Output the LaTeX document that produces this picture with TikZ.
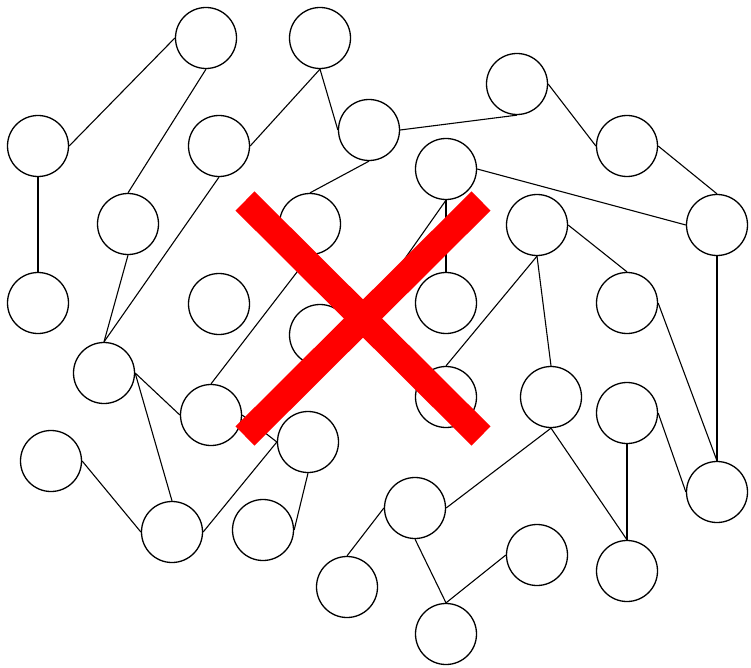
\documentclass[tikz,border=0pt]{standalone}
\begin{document}
\begin{tikzpicture}[x=1pt,y=-1pt,
  vert/.style={circle,draw=black,line width=1.3pt,minimum size=61pt,inner sep=0pt,fill=white},
  edge/.style={draw=black,line width=1.1pt},
  cross/.style={draw=red,line width=27pt,line cap=butt}]
\useasboundingbox (0,0) rectangle (751,668);
\fill[white] (0,0) rectangle (751,668);
\foreach \n/\x/\y in {1/206/38,2/320/38,3/38/146,4/219/146,5/369/130,6/517/84,7/627/146,
  8/128/224,9/310/224,10/446/169,11/537/225,12/717/225,13/38/303,14/219/304,15/446/303,
  16/627/303,17/320/335,18/104/373,19/211/415,20/446/397,21/551/397,22/627/413,23/308/442,
  24/51/461,25/717/492,26/415/508,27/172/532,28/263/530,29/537/555,30/347/587,31/627/571,32/446/634}
  \node[vert] (n\n) at (\x,\y) {};
\foreach \a/\b in {n3.east/n1.west, n3.south/n13.north, n1.south/n8.north, n2.south/n4.east,
  n2.south/n5.west, n5.east/n6.south, n6.east/n7.west, n7.east/n12.north, n10.east/n12.west,
  n5.south/n9.north, n4.south/n18.north, n8.south/n18.north, n18.east/n19.west,
  n18.east/n27.north, n24.east/n27.west, n27.east/n23.west, n19.east/n23.west,
  n28.east/n23.south, n19.north/n9.south, n10.south/n15.north, n10.south/n17.east,
  n11.south/n20.north, n11.south/n21.north, n11.east/n16.north, n12.south/n25.north,
  n16.east/n25.north, n22.east/n25.west, n22.south/n31.north, n21.south/n31.north,
  n21.south/n26.east, n26.west/n30.north, n26.south/n32.north, n29.west/n32.north}
  \draw[edge] (\a) -- (\b);
\coordinate (xa) at (245,201);
\coordinate (xb) at (481,436);
\coordinate (xc) at (481,201);
\coordinate (xd) at (245,436);
\draw[cross] (xa) -- (xb);
\draw[cross] (xc) -- (xd);
\end{tikzpicture}
\end{document}
